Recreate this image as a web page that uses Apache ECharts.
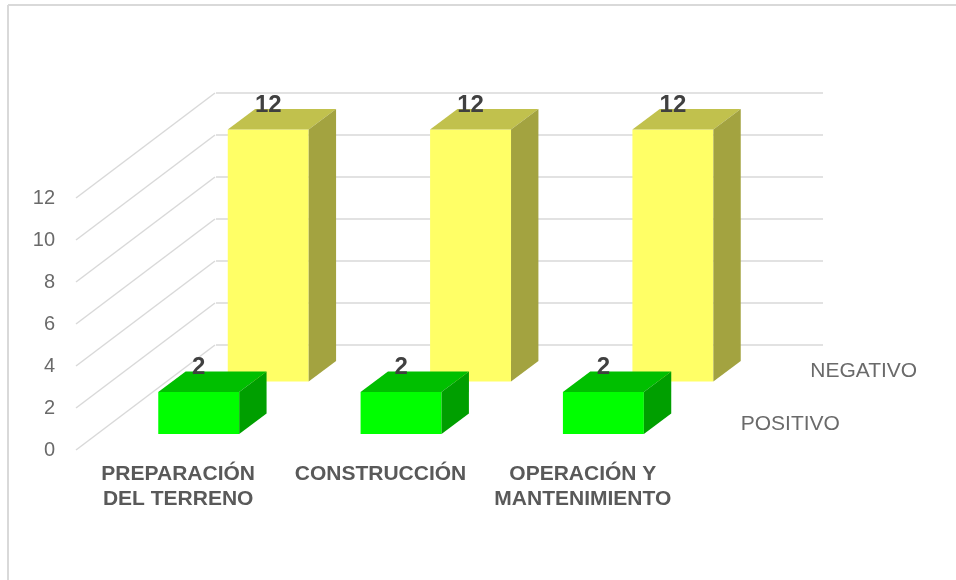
<!DOCTYPE html>
<html>
<head>
<meta charset="utf-8">
<style>html,body{margin:0;padding:0;background:#fff}#c{width:956px;height:580px}</style>
<script src="https://cdn.jsdelivr.net/npm/echarts@6/dist/echarts.min.js"></script>
</head>
<body>
<div id="c"></div>
<script>
var categories = ['PREPARACIÓN\nDEL TERRENO', 'CONSTRUCCIÓN', 'OPERACIÓN Y\nMANTENIMIENTO'];
var positivo = [2, 2, 2];
var negativo = [12, 12, 12];
var depthNames = ['POSITIVO', 'NEGATIVO'];
var valueTicks = [0, 2, 4, 6, 8, 10, 12];

var FONT = '"Liberation Sans", Arial, sans-serif';
var WALL_DX = 139, WALL_DY = -105;   // projection of the chart's depth axis
var BAR_WIDTH = 0.4, BAR_DEPTH = 0.197;
var GRID_COLOR = '#d9d9d9';

function pts(list) { return { points: list }; }

function barSeries(name, values, slot, colors, z) {
  return {
    type: 'custom', name: name, xAxisIndex: 0, yAxisIndex: 0, z: z, clip: false,
    data: values.map(function (v, i) { return [i, v]; }),
    encode: { x: 0, y: 1 },
    renderItem: function (params, api) {
      var base = api.coord([api.value(0), 0]);
      var top = api.coord([api.value(0), api.value(1)]);
      var w = api.size([1, 0])[0] * BAR_WIDTH;
      var start = (slot + 0.5) / depthNames.length - BAR_DEPTH / 2;
      var ox = WALL_DX * start, oy = WALL_DY * start;
      var dx = WALL_DX * BAR_DEPTH, dy = WALL_DY * BAR_DEPTH;
      var l = base[0] + ox - w / 2 - 0.5, r = l + w;
      var b = base[1] + oy, t = top[1] + oy;
      return {
        type: 'group',
        children: [
          { type: 'polygon', shape: pts([[l, t], [r, t], [r, b], [l, b]]), style: { fill: colors[0] } },
          { type: 'polygon', shape: pts([[l, t], [l + dx, t + dy], [r + dx, t + dy], [r, t]]), style: { fill: colors[1] } },
          { type: 'polygon', shape: pts([[r, t], [r + dx, t + dy], [r + dx, b + dy], [r, b]]), style: { fill: colors[2] } },
          { type: 'text', z2: 10, style: {
              x: (l + r) / 2, y: t + dy - 4, text: String(api.value(1)),
              font: 'bold 24px ' + FONT, fill: '#404040', align: 'center', verticalAlign: 'middle'
          } }
        ]
      };
    }
  };
}

var option = {
  backgroundColor: '#fff',
  animation: false,
  graphic: [
    { type: 'line', shape: { x1: 8, y1: 5, x2: 956, y2: 5 }, style: { stroke: '#d9d9d9', lineWidth: 2 } },
    { type: 'line', shape: { x1: 8, y1: 5, x2: 8, y2: 580 }, style: { stroke: '#d9d9d9', lineWidth: 2 } }
  ],
  grid: [
    { left: 77, top: 198, width: 607, height: 252 },
    { left: 216, top: 93, width: 607, height: 252 }
  ],
  xAxis: [
    { type: 'category', gridIndex: 0, data: categories,
      axisLine: { show: false }, axisTick: { show: false },
      axisLabel: { interval: 0, margin: 12, fontFamily: FONT, fontSize: 21, fontWeight: 'bold', color: '#595959', lineHeight: 25 } },
    { type: 'category', gridIndex: 1, data: categories, show: false }
  ],
  yAxis: [
    { type: 'value', gridIndex: 0, min: 0, max: 12, interval: 2,
      axisLine: { show: false }, axisTick: { show: false }, splitLine: { show: false },
      axisLabel: { margin: 22, fontFamily: FONT, fontSize: 20, color: '#6a6a6a' } },
    { type: 'value', gridIndex: 1, min: 0, max: 12, interval: 2,
      axisLine: { show: false }, axisTick: { show: false }, axisLabel: { show: false },
      splitLine: { show: true, lineStyle: { color: GRID_COLOR, width: 1.5 } } }
  ],
  series: [
    { type: 'custom', name: 'wall', xAxisIndex: 0, yAxisIndex: 0, z: 1, clip: false, silent: true,
      data: valueTicks.map(function (v) { return [0, v]; }),
      encode: { x: 0, y: 1 },
      renderItem: function (params, api) {
        var p = api.coord([0, api.value(1)]);
        var x = p[0] - api.size([1, 0])[0] / 2 - 1;
        return { type: 'line', shape: { x1: x, y1: p[1], x2: x + WALL_DX, y2: p[1] + WALL_DY },
                 style: { stroke: GRID_COLOR, lineWidth: 1.5 } };
      } },
    barSeries('NEGATIVO', negativo, 1, ['#FFFF66', '#C1C14D', '#A3A340'], 3),
    barSeries('POSITIVO', positivo, 0, ['#00FF00', '#00BF00', '#009F00'], 4),
    { type: 'custom', name: 'depth', xAxisIndex: 0, yAxisIndex: 0, z: 5, clip: false, silent: true,
      data: depthNames.map(function (n, i) { return [categories.length - 1, 0, i]; }),
      encode: { x: 0, y: 1 },
      renderItem: function (params, api) {
        var slot = api.value(2);
        var p = api.coord([api.value(0), 0]);
        var f = (slot + 0.5) / depthNames.length;
        return { type: 'text', style: {
          x: p[0] + api.size([1, 0])[0] / 2 + WALL_DX * f + 22,
          y: p[1] + WALL_DY * f,
          text: depthNames[slot], font: '21px ' + FONT, fill: '#6a6a6a',
          align: 'left', verticalAlign: 'middle' } };
      } }
  ]
};
var chart = echarts.init(document.getElementById('c'), null, { renderer: 'canvas' });
chart.setOption(option);
</script>
</body>
</html>
